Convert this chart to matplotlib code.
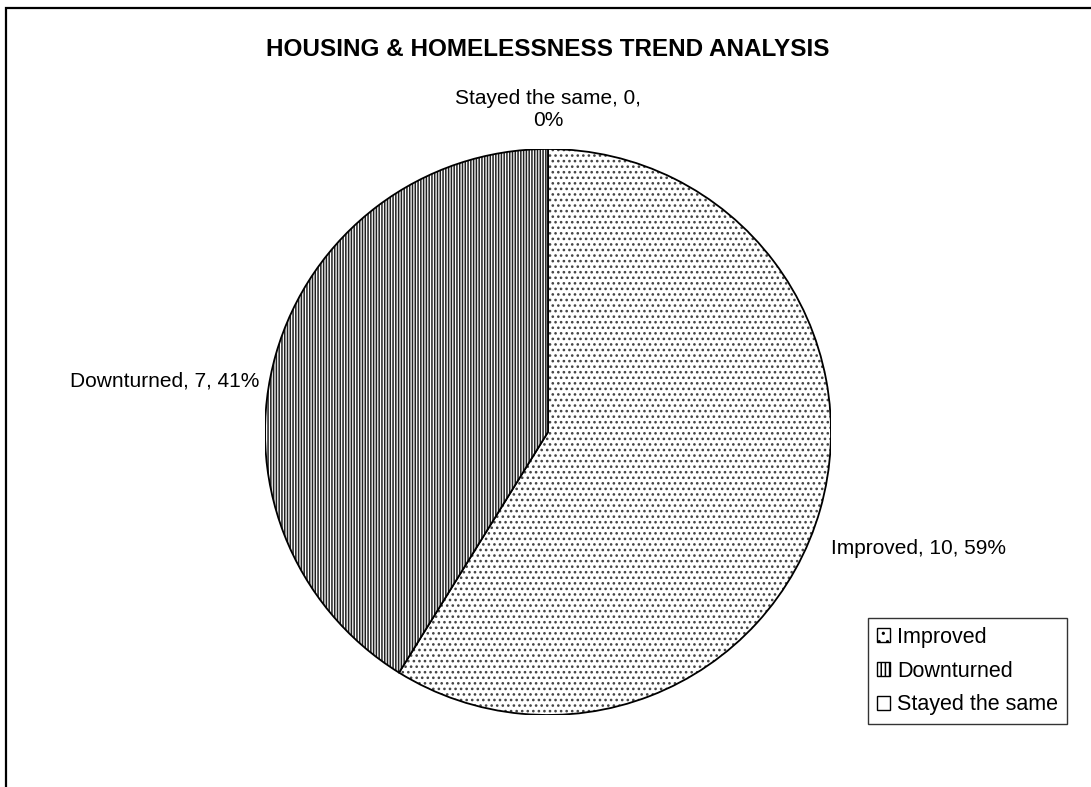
import matplotlib.pyplot as plt
import numpy as np
from matplotlib.patches import Patch, Rectangle, Wedge

plt.rcParams["font.family"] = ["Liberation Sans", "DejaVu Sans"]
plt.rcParams["hatch.linewidth"] = 1.1

categories = ["Improved", "Downturned", "Stayed the same"]
counts = [10, 7, 0]
hatches = ["...", "||||||", ""]
hatch_colors = ["#444444", "#222222", "black"]

# label anchors in axes data units (radius = 1): x, y, horizontal alignment
label_pos = [(1.0, -0.41, "left"), (-1.02, 0.18, "right"), (0.0, 1.14, "center")]

W, H = 1091, 787
fig = plt.figure(figsize=(W / 100, H / 100), dpi=100)

# outer chart-area frame, running off the right and bottom edges
fig.patches.append(Rectangle((6 / W, -0.1), 1.2, (H - 8) / H + 0.1,
                             transform=fig.transFigure, fill=False,
                             edgecolor="black", linewidth=1.6))

cx, cy, r = 548, 432, 283
ax = fig.add_axes([(cx - r) / W, (H - cy - r) / H, 2 * r / W, 2 * r / H])
ax.set_xlim(-1, 1)
ax.set_ylim(-1, 1)
ax.set_aspect("equal")
ax.axis("off")

total = sum(counts)
fractions = np.array(counts) / total
theta = 90.0
for name, n, frac, hatch, hc, (lx, ly, ha) in zip(
        categories, counts, fractions, hatches, hatch_colors, label_pos):
    t1 = theta - frac * 360
    if frac > 0:
        ax.add_patch(Wedge((0, 0), 1, t1, theta, facecolor="white",
                           edgecolor=hc, hatch=hatch, linewidth=0))
        ax.add_patch(Wedge((0, 0), 1, t1, theta, fill=False,
                           edgecolor="black", linewidth=1.3))
    pct = round(frac * 100)
    text = f"{name}, {n}, {pct}%"
    if name == "Stayed the same":
        text = f"{name}, {n},\n{pct}%"
    ax.text(lx, ly, text, ha=ha, va="center", fontsize=15,
            linespacing=1.2, clip_on=False)
    theta = t1

fig.text(cx / W, (H - 49) / H, "HOUSING & HOMELESSNESS TREND ANALYSIS",
         ha="center", va="center", fontsize=17.5, fontweight="bold")

handles = [Patch(facecolor="white", edgecolor="black", hatch=h, linewidth=1)
           for h in ["..", "||||", ""]]
leg = fig.legend(handles, categories, loc="upper left",
                 bbox_to_anchor=(868 / W, (H - 618) / H), fontsize=15.5,
                 frameon=True, fancybox=False, shadow=False,
                 handlelength=0.6, handleheight=0.6, handletextpad=0.35,
                 labelspacing=0.6, borderpad=0.4, borderaxespad=0)
leg.get_frame().set_edgecolor("black")
leg.get_frame().set_linewidth(1.0)

fig.savefig("out.png", dpi=100)
